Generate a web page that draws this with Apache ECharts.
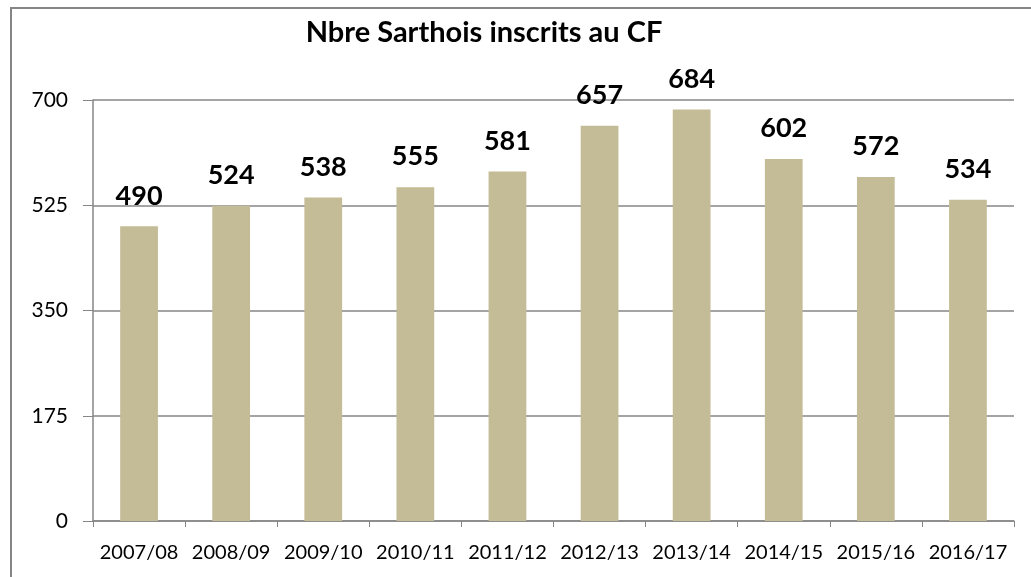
<!DOCTYPE html>
<html>
<head>
<meta charset="utf-8">
<script src="https://cdn.jsdelivr.net/npm/echarts@6/dist/echarts.min.js"></script>
<style>
  html, body { margin: 0; padding: 0; background: #fff; }
  #chart { width: 1031px; height: 577px; }
</style>
</head>
<body>
<div id="chart"></div>
<script>
// Data
var seasons = ['2007/08', '2008/09', '2009/10', '2010/11', '2011/12',
	'2012/13', '2013/14', '2014/15', '2015/16', '2016/17'];
var inscrits = [490, 524, 538, 555, 581, 657, 684, 602, 572, 534];
var yTicks = [0, 175, 350, 525, 700];

var FONT = 'Lato, "Open Sans", sans-serif';

function GenerateChart() {
	var chart = echarts.init(document.getElementById('chart'), null, {renderer: 'canvas'});

	chart.setOption({
		backgroundColor: '#fff',
		animation: false,
		title: {
			text: 'Nbre Sarthois inscrits au CF',
			left: 479,
			textAlign: 'center',
			top: 13,
			textStyle: {
				fontFamily: FONT,
				fontWeight: 'bold',
				fontSize: 29,
				color: '#000'
			}
		},
		graphic: [
			{
				// outer chart frame
				type: 'rect',
				shape: {x: 11, y: 8, width: 1060, height: 620},
				style: {fill: 'none', stroke: '#868686', lineWidth: 2},
				silent: true
			}
		],
		grid: {
			left: 93,
			right: 17,
			top: 100,
			bottom: 56
		},
		xAxis: {
			type: 'category',
			data: seasons,
			axisLine: {lineStyle: {color: '#868686', width: 1.5}},
			axisTick: {show: true, length: 6, alignWithLabel: false, lineStyle: {color: '#868686'}},
			axisLabel: {
				fontFamily: FONT,
				fontSize: 20,
				color: '#000',
				margin: 22,
				interval: 0
			}
		},
		yAxis: {
			type: 'value',
			min: yTicks[0],
			max: yTicks[yTicks.length - 1],
			interval: 175,
			axisLine: {show: true, lineStyle: {color: '#868686', width: 1.5}},
			axisTick: {show: true, length: 10, lineStyle: {color: '#868686'}},
			splitLine: {lineStyle: {color: '#868686', width: 1.5}},
			axisLabel: {
				fontFamily: FONT,
				fontSize: 21,
				color: '#000',
				margin: 25
			}
		},
		series: [
			{
				name: 'Inscrits',
				type: 'bar',
				data: inscrits,
				barWidth: '41%',
				itemStyle: {color: '#c4bc96'},
				label: {
					show: true,
					position: 'top',
					distance: 17,
					fontFamily: FONT,
					fontWeight: 'bold',
					fontSize: 27,
					color: '#000'
				}
			}
		]
	});
}

GenerateChart();
</script>
</body>
</html>
